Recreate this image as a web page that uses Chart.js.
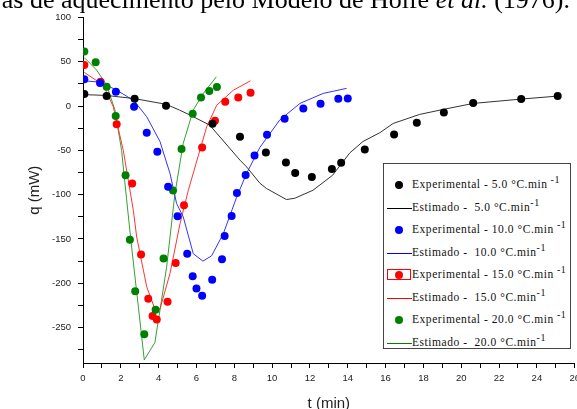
<!DOCTYPE html>
<html>
<head>
<meta charset="utf-8">
<script src="https://cdn.jsdelivr.net/npm/chart.js@4"></script>
<style>
    html, body { margin: 0; padding: 0; background: #fff; }
    #wrap { position: relative; width: 577px; height: 409px; overflow: hidden; }
    #caption {
        position: absolute; right: 7px; top: -13px; white-space: nowrap; line-height: 26px;
        font-family: "Liberation Serif", "DejaVu Serif", serif; font-size: 26px; color: #000;
    }
    #legend {
        position: absolute; left: 383px; top: 163px; width: 188px; height: 186px;
        border: 1px solid #444; box-sizing: border-box; background: #fff;
        font-family: "Liberation Serif", "DejaVu Serif", serif; font-size: 11.5px; color: #111;
    }
    .row { position: absolute; left: 0; height: 22px; width: 186px; }
    .row .txt { position: absolute; left: 28px; top: 4px; white-space: pre; letter-spacing: 0.55px; }
    .row sup { font-size: 10px; vertical-align: 5px; line-height: 0; }
    .dot { position: absolute; left: 11px; top: 7px; width: 8px; height: 8px; border-radius: 50%; }
    .ln { position: absolute; left: 3px; top: 11px; width: 25px; height: 1px; }
    .sel { position: absolute; left: 3px; top: 5px; width: 24px; height: 11px; border: 1px solid #f00; box-sizing: border-box; }
</style>
</head>
<body>
<div id="wrap">
    <canvas id="chart" width="585" height="411"></canvas>
    <div id="caption">as de aquecimento pelo Modelo de Holfe <i>et al.</i> (1976).</div>
    <div id="legend"></div>
</div>
<script>
// taxa 5.0 °C/min
const exp5T = [0.07, 1.25, 2.73, 4.39, 6.85, 8.3, 9.67, 10.73, 11.22, 12.1, 13.16, 13.65, 14.9, 16.45, 17.65, 19.08, 20.63, 23.17, 25.1];
const exp5Q = [13.6, 11.3, 8.3, 0.4, -20, -34.7, -52.4, -63.7, -75.4, -80, -70.9, -64, -49, -32, -18.8, -7.2, 3.4, 7.9, 11.3];
const est5T = [0, 1.25, 2.7, 4.4, 5.1, 5.65, 6.7, 8.3, 8.65, 9.35, 9.7, 10.76, 11.2, 12.16, 13.2, 14.1, 14.8, 15.7, 16.4, 17.8, 19.04, 20.63, 23.17, 25.1];
const est5Q = [13, 12, 8.5, 2, -4.5, -10, -21.5, -61, -68.6, -87, -93, -105.5, -104, -95, -78, -53, -40, -30, -19.6, -9.4, -3.8, 3, 7.9, 11.3];

// taxa 10.0 °C/min
const exp10T = [0.07, 0.9, 1.74, 2.7, 3.37, 3.93, 4.5, 5.0, 5.51, 5.8, 6.0, 6.3, 6.83, 7.35, 7.49, 7.86, 8.14, 8.6, 9.07, 9.73, 10.66, 11.65, 12.56, 13.5, 14.0];
const exp10Q = [30.2, 26, 16.2, -0.7, -30, -51.6, -91, -124.4, -166.6, -192, -206, -214, -196, -173, -146.7, -124, -98, -77.7, -55.8, -32.4, -14.3, -2.7, 2.7, 8.3, 8.7];
const est10T = [0.07, 0.9, 1.78, 2.7, 3.37, 4.07, 4.6, 4.95, 5.3, 5.83, 6.34, 6.8, 7.42, 8.12, 8.65, 9.35, 10.4, 11.47, 12.7, 13.94];
const est10Q = [28.5, 27, 18, 6, -12, -40, -76, -110, -125, -166.6, -175, -169, -144, -103, -76, -46.7, -15.8, 3, 14.3, 20];

// taxa 15.0 °C/min
const exp15T = [0.07, 0.93, 1.78, 2.6, 3.07, 3.45, 3.68, 3.9, 4.47, 4.9, 5.34, 6.3, 6.98, 7.52, 8.21, 8.86];
const exp15Q = [46.4, 27.5, -20.4, -87.5, -167.4, -217.6, -237, -241, -221, -177, -112, -46.7, -16.6, 4.9, 9.8, 15.1];
const est15T = [0.07, 1.07, 1.6, 2.13, 2.66, 2.84, 3.37, 3.8, 4.07, 4.6, 5.13, 5.57, 6.54, 7.07, 7.95, 8.3, 8.86];
const est15Q = [38, 23.8, -0.7, -50, -117.6, -147.8, -204, -229, -229, -189, -132.7, -95, -23.4, 1, 18, 22, 28.6];

// taxa 20.0 °C/min
const exp20T = [0.07, 0.67, 1.25, 1.73, 2.25, 2.48, 2.76, 3.24, 3.84, 4.26, 4.76, 5.21, 5.8, 6.24, 6.68, 7.08];
const exp20Q = [61.5, 49.4, 21.8, -11.3, -78, -151, -209, -257.5, -230, -172, -95.4, -48.3, -8.7, 9.8, 17, 21.5];
const est20T = [0.07, 0.72, 1.25, 1.69, 2.04, 2.3, 2.57, 2.93, 3.24, 3.8, 4.0, 4.42, 4.86, 5.3, 5.83, 6.36, 7.05];
const est20Q = [54.7, 40.7, 23.8, -4.5, -50, -104, -159, -227, -286.5, -267, -240, -182, -99, -42, -4.5, 14.3, 33];

const xTicks = [0, 2, 4, 6, 8, 10, 12, 14, 16, 18, 20, 22, 24, 26];
const yTicks = [100, 50, 0, -50, -100, -150, -200, -250];

const legendLabels = [
    ['dot', '#000', 'Experimental - 5.0 °C.min', ' -1'],
    ['line', '#000', 'Estimado -  5.0 °C.min', '-1'],
    ['dot', '#0000ff', 'Experimental - 10.0 °C.min', ' -1'],
    ['line', '#0000ff', 'Estimado -  10.0 °C.min', '-1'],
    ['dot', '#ff0000', 'Experimental - 15.0 °C.min', ' -1'],
    ['line', '#ff0000', 'Estimado -  15.0 °C.min', '-1'],
    ['dot', '#008000', 'Experimental - 20.0 °C.min', ' -1'],
    ['line', '#008000', 'Estimado -  20.0 °C.min', '-1']
];

const pts = (ts, qs) => ts.map((t, i) => ({x: t, y: qs[i]}));

const expSet = (ts, qs, color) => ({
    data: pts(ts, qs),
    showLine: false,
    pointRadius: 4,
    pointBackgroundColor: color,
    pointBorderColor: color,
    pointBorderWidth: 0
});

const estSet = (ts, qs, color) => ({
    data: pts(ts, qs),
    showLine: true,
    tension: 0,
    pointRadius: 0,
    borderColor: color,
    borderWidth: 1
});

window.onload = () => {
    // legenda em HTML (precisa de sobrescrito)
    const legend = document.getElementById('legend');
    legendLabels.forEach(([kind, color, text, sup], i) => {
        const row = document.createElement('div');
        row.className = 'row';
        row.style.top = (10 + i * 22.5) + 'px';
        let mark = kind === 'dot'
            ? `<div class="dot" style="background:${color}"></div>`
            : `<div class="ln" style="background:${color}"></div>`;
        if (i === 4) mark += '<div class="sel"></div>';
        row.innerHTML = `${mark}<span class="txt">${text}<sup>${sup}</sup></span>`;
        legend.appendChild(row);
    });

    const ctx = document.getElementById('chart').getContext('2d');
    new Chart(ctx, {
        type: 'scatter',
        data: {
            datasets: [
                expSet(exp5T, exp5Q, '#000000'),
                expSet(exp10T, exp10Q, '#0000ff'),
                expSet(exp20T, exp20Q, '#008000'),
                expSet(exp15T, exp15Q, '#ff0000'),
                estSet(est5T, est5Q, '#333333'),
                estSet(est10T, est10Q, '#3333ff'),
                estSet(est15T, est15Q, '#ff3333'),
                estSet(est20T, est20Q, '#33a033')
            ]
        },
        options: {
            responsive: false,
            animation: false,
            layout: {padding: {top: 17.5, right: 0, left: 0, bottom: 0}},
            plugins: {legend: {display: false}, tooltip: {enabled: false}},
            scales: {
                x: {
                    type: 'linear',
                    min: 0,
                    max: 26,
                    afterFit: (s) => { s.height = 48; },
                    afterBuildTicks: (s) => { s.ticks = s.ticks.filter(t => Number.isInteger(t.value)); },
                    ticks: {
                        stepSize: 1,
                        autoSkip: false,
                        maxRotation: 0,
                        padding: 5,
                        color: '#222',
                        font: {family: 'Arial, "Liberation Sans", sans-serif', size: 9.5},
                        callback: (v) => xTicks.includes(v) ? String(v) : ''
                    },
                    grid: {display: true, drawOnChartArea: false, drawTicks: true, tickLength: 5, color: '#000'},
                    border: {display: true, color: '#000', width: 1},
                    title: {
                        display: true,
                        text: 't (min)',
                        color: '#222',
                        font: {family: 'Arial, "Liberation Sans", sans-serif', size: 15, lineHeight: 1},
                        padding: {top: 0, bottom: 0}
                    }
                },
                y: {
                    type: 'linear',
                    min: -290,
                    max: 100,
                    afterFit: (s) => { s.width = 83; },
                    afterBuildTicks: (s) => { s.ticks = s.ticks.filter(t => t.value % 25 === 0); },
                    ticks: {
                        stepSize: 25,
                        autoSkip: false,
                        padding: 7,
                        color: '#222',
                        font: {family: 'Arial, "Liberation Sans", sans-serif', size: 9.5},
                        callback: (v) => yTicks.includes(v) ? String(v) : ''
                    },
                    grid: {display: true, drawOnChartArea: false, drawTicks: true, tickLength: 5, color: '#000'},
                    border: {display: true, color: '#000', width: 1},
                    title: {
                        display: true,
                        text: 'q (mW)',
                        color: '#222',
                        font: {family: 'Arial, "Liberation Sans", sans-serif', size: 15, lineHeight: 1},
                        padding: {top: 27, bottom: 0}
                    }
                }
            }
        }
    });
}
</script>
</body>
</html>
